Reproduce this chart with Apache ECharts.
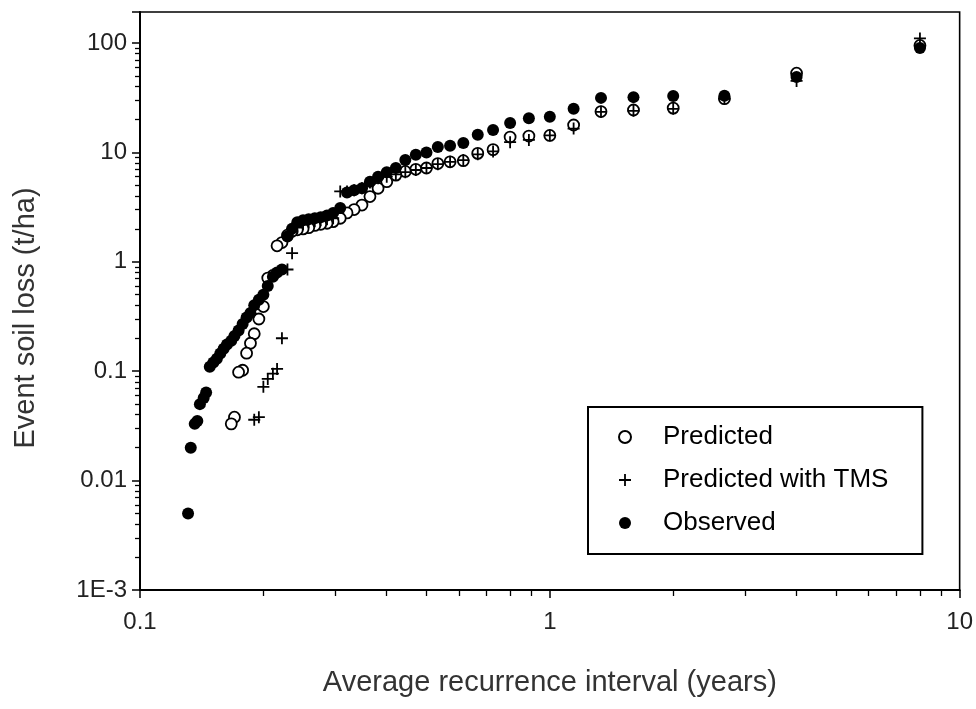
<!DOCTYPE html>
<html><head><meta charset="utf-8">
<script src="https://cdn.jsdelivr.net/npm/echarts@6/dist/echarts.min.js"></script>
<style>html,body{margin:0;padding:0;background:#fff}#c{width:976px;height:709px}</style>
</head><body><div id="c"></div>
<script>
// Average recurrence interval (years) of ranked events
const interval = [8, 4, 2.667, 2, 1.6, 1.333, 1.143, 1, 0.889, 0.8, 0.727, 0.667, 0.615, 0.571, 0.533, 0.5, 0.471, 0.444, 0.421, 0.4, 0.381, 0.364, 0.348, 0.333, 0.32, 0.308, 0.296, 0.286, 0.276, 0.267, 0.258, 0.25, 0.242, 0.235, 0.229, 0.222, 0.216, 0.211, 0.205, 0.2, 0.195, 0.19, 0.186, 0.182, 0.178, 0.174, 0.17, 0.167, 0.163, 0.16, 0.157, 0.154, 0.151, 0.148, 0.145, 0.143, 0.14, 0.138, 0.136, 0.133, 0.131];
// Event soil loss (t/ha)
const observed = [90, 49, 33, 32.8, 32, 31.5, 25, 21.2, 20.5, 18.6, 16, 14.5, 12.2, 11.5, 11.2, 10, 9.5, 8.5, 7.2, 6.6, 6.0, 5.4, 4.7, 4.5, 4.3, 3.1, 2.8, 2.65, 2.55, 2.5, 2.45, 2.4, 2.3, 2.0, 1.7, 0.85, 0.8, 0.73, 0.6, 0.5, 0.45, 0.4, 0.34, 0.31, 0.27, 0.235, 0.21, 0.19, 0.175, 0.16, 0.145, 0.13, 0.12, 0.11, 0.064, 0.057, 0.05, 0.035, 0.033, 0.02, 0.005];
const predicted = [95, 53, 31, 25.4, 24.4, 23.6, 17.8, 14.3, 14.1, 13.8, 10.6, 9.8, 8.4, 8.2, 7.9, 7.2, 7.0, 6.7, 6.2, 5.4, 4.7, 3.95, 3.3, 3.0, 2.8, 2.5, 2.33, 2.25, 2.2, 2.15, 2.05, 2.0, 1.96, 1.9, 1.75, 1.5, 1.4, 0.75, 0.71, 0.39, 0.3, 0.22, 0.18, 0.146, 0.102, 0.098, 0.038, 0.033];
const predictedTMS = [110, 45, 31, 25, 24, 23.5, 16.5, 14.3, 13, 12.4, 10.2, 9.6, 8.5, 8.2, 7.8, 7.2, 6.9, 6.6, 6.3, 6.0, 5.8, 5.3, 4.7, 4.5, 4.4, 4.4, 2.5, 2.45, 2.4, 2.35, 2.3, 2.2, 2.05, 1.2, 0.85, 0.2, 0.105, 0.095, 0.085, 0.072, 0.038, 0.036];
const seriesNames = ['Predicted', 'Predicted with TMS', 'Observed'];
const yTickLabels = ['1E-3', '0.01', '0.1', '1', '10', '100'];
const xTickLabels = ['0.1', '1', '10'];

const pair = vals => vals.map((v, i) => [interval[i], v]);
const FONT = 'Liberation Sans, Arial, Helvetica, sans-serif';
const PLUS = 'path://M0,8.5L20,8.5L20,11.5L0,11.5Z M8.5,0L11.5,0L11.5,20L8.5,20Z';

function decadeLabel(v, labels, minExp) {
  const e = Math.log10(v);
  const k = Math.round(e);
  if (Math.abs(e - k) > 1e-6) return '';
  return labels[k - minExp] || '';
}

const chart = echarts.init(document.getElementById('c'), null, {renderer: 'canvas'});
chart.setOption({
  animation: false,
  backgroundColor: '#fff',
  grid: {left: 140, right: 15, top: 12, bottom: 119, show: true, borderColor: '#000', borderWidth: 1.6, backgroundColor: 'transparent'},
  legend: {
    orient: 'vertical', left: 588, top: 407,
    data: seriesNames,
    itemWidth: 50, itemHeight: 12, itemGap: 17,
    padding: [17, 34, 18, 30],
    borderColor: '#000', borderWidth: 2,
    textStyle: {fontSize: 26, fontFamily: FONT, color: '#000', padding: [0, 0, 0, 8]}
  },
  xAxis: {
    type: 'log', logBase: 10, min: 0.1, max: 10,
    axisLine: {lineStyle: {color: '#000', width: 2}},
    axisTick: {length: 8, lineStyle: {color: '#000', width: 1.5}},
    minorTick: {show: true, splitNumber: 9, length: 6, lineStyle: {color: '#000', width: 1.3}},
    splitLine: {show: false},
    axisLabel: {fontSize: 24, fontFamily: FONT, color: '#222', margin: 20,
      formatter: v => decadeLabel(v, xTickLabels, -1)},
    name: 'Average recurrence interval (years)', nameLocation: 'middle', nameGap: 78,
    nameTextStyle: {fontSize: 29, fontFamily: FONT, color: '#333'}
  },
  yAxis: {
    type: 'log', logBase: 10, min: 0.001, max: 192,
    axisLine: {lineStyle: {color: '#000', width: 2}},
    axisTick: {length: 8, lineStyle: {color: '#000', width: 1.5}},
    minorTick: {show: true, splitNumber: 9, length: 5, lineStyle: {color: '#000', width: 1.3}},
    splitLine: {show: false},
    axisLabel: {fontSize: 24, fontFamily: FONT, color: '#222', margin: 13, showMaxLabel: false,
      formatter: v => decadeLabel(v, yTickLabels, -3)},
    name: 'Event soil loss (t/ha)', nameLocation: 'middle', nameGap: 100, nameRotate: 90,
    nameTextStyle: {fontSize: 29, fontFamily: FONT, color: '#333', padding: [0, 34, 0, 0]}
  },
  series: [
    {name: seriesNames[0], type: 'scatter', data: pair(predicted), symbol: 'circle', symbolSize: 11,
      itemStyle: {color: '#fff', borderColor: '#000', borderWidth: 1.8, opacity: 1}},
    {name: seriesNames[1], type: 'scatter', data: pair(predictedTMS), symbol: PLUS, symbolSize: 12,
      itemStyle: {color: '#000', opacity: 1}},
    {name: seriesNames[2], type: 'scatter', data: pair(observed), symbol: 'circle', symbolSize: 12,
      itemStyle: {color: '#000', opacity: 1}}
  ]
});
</script>
</body></html>
